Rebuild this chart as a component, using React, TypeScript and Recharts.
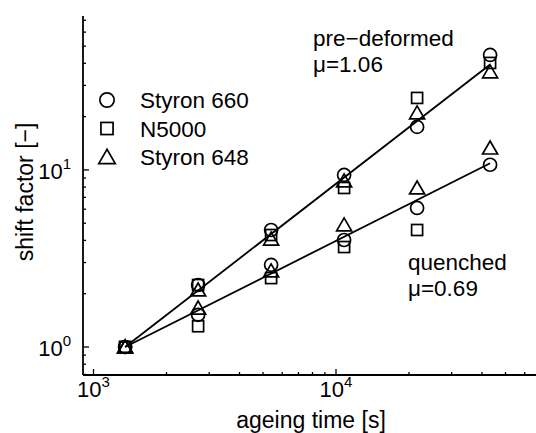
import React from 'react';
import { ScatterChart, Scatter, XAxis, YAxis } from 'recharts';

const FONT = '"Liberation Sans", Arial, Helvetica, sans-serif';

// ageing times [s]
const ageTimes = [1350, 2700, 5400, 10800, 21600, 43200];

// pre-deformed shift factors
const preStyron660 = [1, 2.24, 4.58, 9.37, 17.5, 44.6];
const preN5000 = [1, 2.24, 4.29, 7.91, 25.5, 40.2];
const preStyron648 = [1, 2.1, 4.07, 8.67, 21.0, 35.8];

// quenched shift factors
const quStyron660 = [1, 1.52, 2.91, 4.02, 6.1, 10.7];
const quN5000 = [1, 1.31, 2.45, 3.67, 4.58, null];
const quStyron648 = [1, 1.66, 2.69, 4.89, 7.91, 13.3];

// fitted power laws (endpoints)
const fitTimes = [1350, 43200];
const fitPre = [1, 39.4];
const fitQuenched = [1, 10.9];

const legendNames = ['Styron 660', 'N5000', 'Styron 648'];

const xTicks = [1000, 2000, 3000, 4000, 5000, 6000, 7000, 8000, 9000, 10000, 20000, 30000, 40000, 50000, 60000];
const yTicks = [0.7, 0.8, 0.9, 1, 2, 3, 4, 5, 6, 7, 8, 9, 10, 20, 30, 40, 50, 60, 70];
const xMajor = [1000, 10000];
const yMajor = [1, 10];

type Shape = 'circle' | 'square' | 'triangle';

function toPoints(xs: number[], ys: (number | null)[]) {
  return xs
    .map((t, i) => ({ t, v: ys[i] }))
    .filter((p) => p.v !== null);
}

function marker(shape: Shape, cx: number, cy: number, s = 1) {
  const common = { fill: 'none', stroke: '#000', strokeWidth: 1.7 };
  if (shape === 'circle') return <circle cx={cx} cy={cy} r={6.5 * s} {...common} />;
  if (shape === 'square')
    return <rect x={cx - 5.5 * s} y={cy - 5.5 * s} width={11 * s} height={11 * s} {...common} />;
  const pts = `${cx},${cy - 7 * s} ${cx - 7.5 * s},${cy + 6 * s} ${cx + 7.5 * s},${cy + 6 * s}`;
  return <polygon points={pts} {...common} />;
}

const makeShape = (shape: Shape) => (props: any) => {
  const { cx, cy } = props;
  if (cx == null || cy == null) return <g />;
  return <g>{marker(shape, cx, cy)}</g>;
};

function Pow({ v }: { v: number }) {
  return (
    <>
      10<tspan dy={-10} fontSize={15}>{Math.round(Math.log10(v))}</tspan>
    </>
  );
}

function XTick(props: any) {
  const { x, y, payload } = props;
  const major = xMajor.includes(payload.value);
  return (
    <g>
      <line x1={x} y1={y} x2={x} y2={y - (major ? 6 : 3)} stroke="#000" strokeWidth={1.3} />
      {major && (
        <text x={x} y={y + 22} textAnchor="middle" fontSize={22} fontFamily={FONT} fill="#000">
          <Pow v={payload.value} />
        </text>
      )}
    </g>
  );
}

function YTick(props: any) {
  const { x, y, payload } = props;
  const major = yMajor.includes(payload.value);
  return (
    <g>
      <line x1={x} y1={y} x2={x + (major ? 6 : 3)} y2={y} stroke="#000" strokeWidth={1.3} />
      {major && (
        <text x={x - 12} y={y + 9} textAnchor="end" fontSize={22} fontFamily={FONT} fill="#000">
          <Pow v={payload.value} />
        </text>
      )}
    </g>
  );
}

const series: { data: (number | null)[]; shape: Shape }[] = [
  { data: preStyron660, shape: 'circle' },
  { data: preN5000, shape: 'square' },
  { data: preStyron648, shape: 'triangle' },
  { data: quStyron660, shape: 'circle' },
  { data: quN5000, shape: 'square' },
  { data: quStyron648, shape: 'triangle' },
];

const legendShapes: Shape[] = ['circle', 'square', 'triangle'];

export default function App() {
  return (
    <div
      style={{
        position: 'absolute',
        left: 0,
        top: 0,
        width: 536,
        height: 433,
        overflow: 'hidden',
        background: '#fff',
      }}
    >
      <ScatterChart width={536} height={433} margin={{ top: 16, right: 0, bottom: 0, left: 0 }}>
        <XAxis
          type="number"
          dataKey="t"
          scale="log"
          domain={[905, 66800]}
          allowDataOverflow
          ticks={xTicks}
          interval={0}
          tick={(p: any) => <XTick {...p} />}
          tickLine={false}
          tickSize={0}
          tickMargin={0}
          height={58}
          axisLine={{ stroke: '#000', strokeWidth: 1.8 }}
        />
        <YAxis
          type="number"
          dataKey="v"
          scale="log"
          domain={[0.695, 74]}
          allowDataOverflow
          ticks={yTicks}
          interval={0}
          tick={(p: any) => <YTick {...p} />}
          tickLine={false}
          tickSize={0}
          tickMargin={0}
          width={83}
          axisLine={{ stroke: '#000', strokeWidth: 1.8 }}
        />
        <Scatter
          data={toPoints(fitTimes, fitPre)}
          line={{ stroke: '#000', strokeWidth: 1.8 }}
          shape={() => <g />}
          isAnimationActive={false}
        />
        <Scatter
          data={toPoints(fitTimes, fitQuenched)}
          line={{ stroke: '#000', strokeWidth: 1.8 }}
          shape={() => <g />}
          isAnimationActive={false}
        />
        {series.map((s, i) => (
          <Scatter
            key={i}
            data={toPoints(ageTimes, s.data)}
            shape={makeShape(s.shape)}
            isAnimationActive={false}
          />
        ))}
      </ScatterChart>
      <svg
        width={536}
        height={433}
        style={{ position: 'absolute', left: 0, top: 0, pointerEvents: 'none' }}
        fontFamily={FONT}
        fill="#000"
      >
        {legendNames.map((name, i) => (
          <g key={name}>
            {marker(legendShapes[i], 107, 100 + i * 28.5, 1.1)}
            <text x={140} y={108 + i * 28.5} fontSize={22.5}>
              {name}
            </text>
          </g>
        ))}
        <text x={313} y={46} fontSize={22.5}>pre−deformed</text>
        <text x={313} y={72} fontSize={22.5}>μ=1.06</text>
        <text x={408} y={270} fontSize={22.5}>quenched</text>
        <text x={408} y={296} fontSize={22.5}>μ=0.69</text>
        <text x={311} y={428} fontSize={23} textAnchor="middle">ageing time [s]</text>
        <text x={33} y={192} fontSize={23} textAnchor="middle" transform="rotate(-90 33 192)">
          shift factor [−]
        </text>
      </svg>
    </div>
  );
}
